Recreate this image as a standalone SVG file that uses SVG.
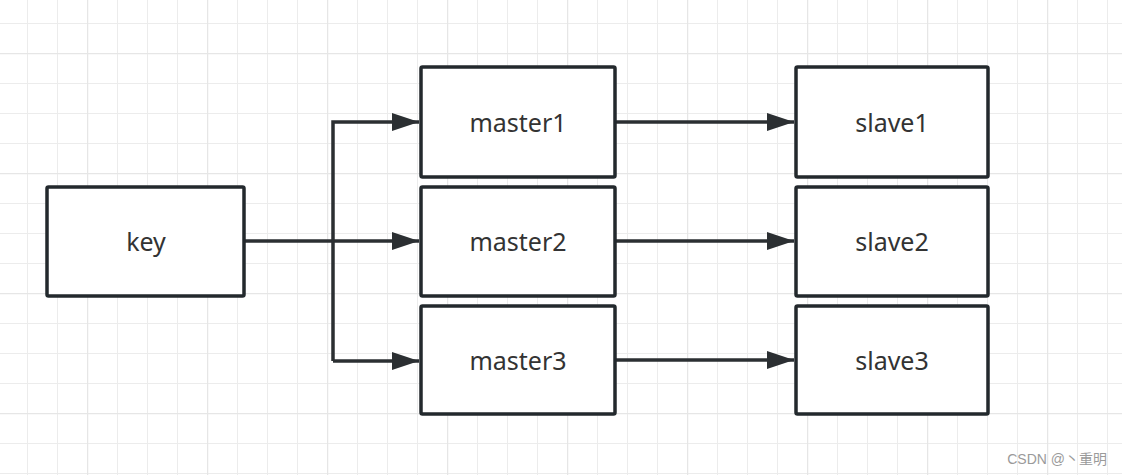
<svg xmlns="http://www.w3.org/2000/svg" width="1122" height="475" viewBox="0 0 1122 475">
  <defs>
    <pattern id="grid" x="27" y="23" width="30" height="30" patternUnits="userSpaceOnUse">
      <path d="M0 0V30M0 0H30" fill="none" stroke="#ececec" stroke-width="2"/>
    </pattern>
    <pattern id="gridMajor" x="87" y="53" width="120" height="120" patternUnits="userSpaceOnUse">
      <path d="M0 0V120M0 0H120" fill="none" stroke="#e6e6e6" stroke-width="2.5"/>
    </pattern>
    <marker id="arrow" markerUnits="userSpaceOnUse" markerWidth="28" markerHeight="20" refX="27" refY="9" orient="auto">
      <path d="M0 0L27 9L0 18Z" fill="#2b2f32"/>
    </marker>
    <style>
      .box { fill: #ffffff; stroke: #23292d; stroke-width: 3.5; }
      .lbl { font-family: "Noto Sans", "Open Sans", sans-serif; font-size: 25px; fill: #333333; text-anchor: middle; dominant-baseline: central; }
      .conn { fill: none; stroke: #2b2f32; stroke-width: 3.5; }
    </style>
  </defs>
  <rect width="1122" height="475" fill="#ffffff"/>
  <rect width="1122" height="475" fill="url(#grid)"/>
  <rect width="1122" height="475" fill="url(#gridMajor)"/>

  <g id="connectors">
    <path class="conn" d="M244 241H419" marker-end="url(#arrow)"/>
    <path class="conn" d="M333 361V122H419" marker-end="url(#arrow)"/>
    <path class="conn" d="M333 361H419" marker-end="url(#arrow)"/>
    <path class="conn" d="M615 122H794" marker-end="url(#arrow)"/>
    <path class="conn" d="M615 241H794" marker-end="url(#arrow)"/>
    <path class="conn" d="M615 360H794" marker-end="url(#arrow)"/>
  </g>

  <g id="key">
    <rect class="box" x="47" y="187" width="197" height="109" rx="1.5"/>
    <text class="lbl" x="146" y="241">key</text>
  </g>
  <g id="master1">
    <rect class="box" x="421" y="67" width="194" height="110" rx="1.5"/>
    <text class="lbl" x="518" y="122">master1</text>
  </g>
  <g id="master2">
    <rect class="box" x="421" y="187" width="194" height="109" rx="1.5"/>
    <text class="lbl" x="518" y="241">master2</text>
  </g>
  <g id="master3">
    <rect class="box" x="421" y="306" width="194" height="108" rx="1.5"/>
    <text class="lbl" x="518" y="360">master3</text>
  </g>
  <g id="slave1">
    <rect class="box" x="796" y="67" width="192" height="110" rx="1.5"/>
    <text class="lbl" x="892" y="122">slave1</text>
  </g>
  <g id="slave2">
    <rect class="box" x="796" y="187" width="192" height="109" rx="1.5"/>
    <text class="lbl" x="892" y="241">slave2</text>
  </g>
  <g id="slave3">
    <rect class="box" x="796" y="306" width="192" height="108" rx="1.5"/>
    <text class="lbl" x="892" y="360">slave3</text>
  </g>

  <text x="1107" y="464" text-anchor="end" font-family="'Liberation Sans', 'Noto Sans CJK SC', sans-serif" font-size="14" fill="#9a9a9a">CSDN @丶重明</text>
</svg>
